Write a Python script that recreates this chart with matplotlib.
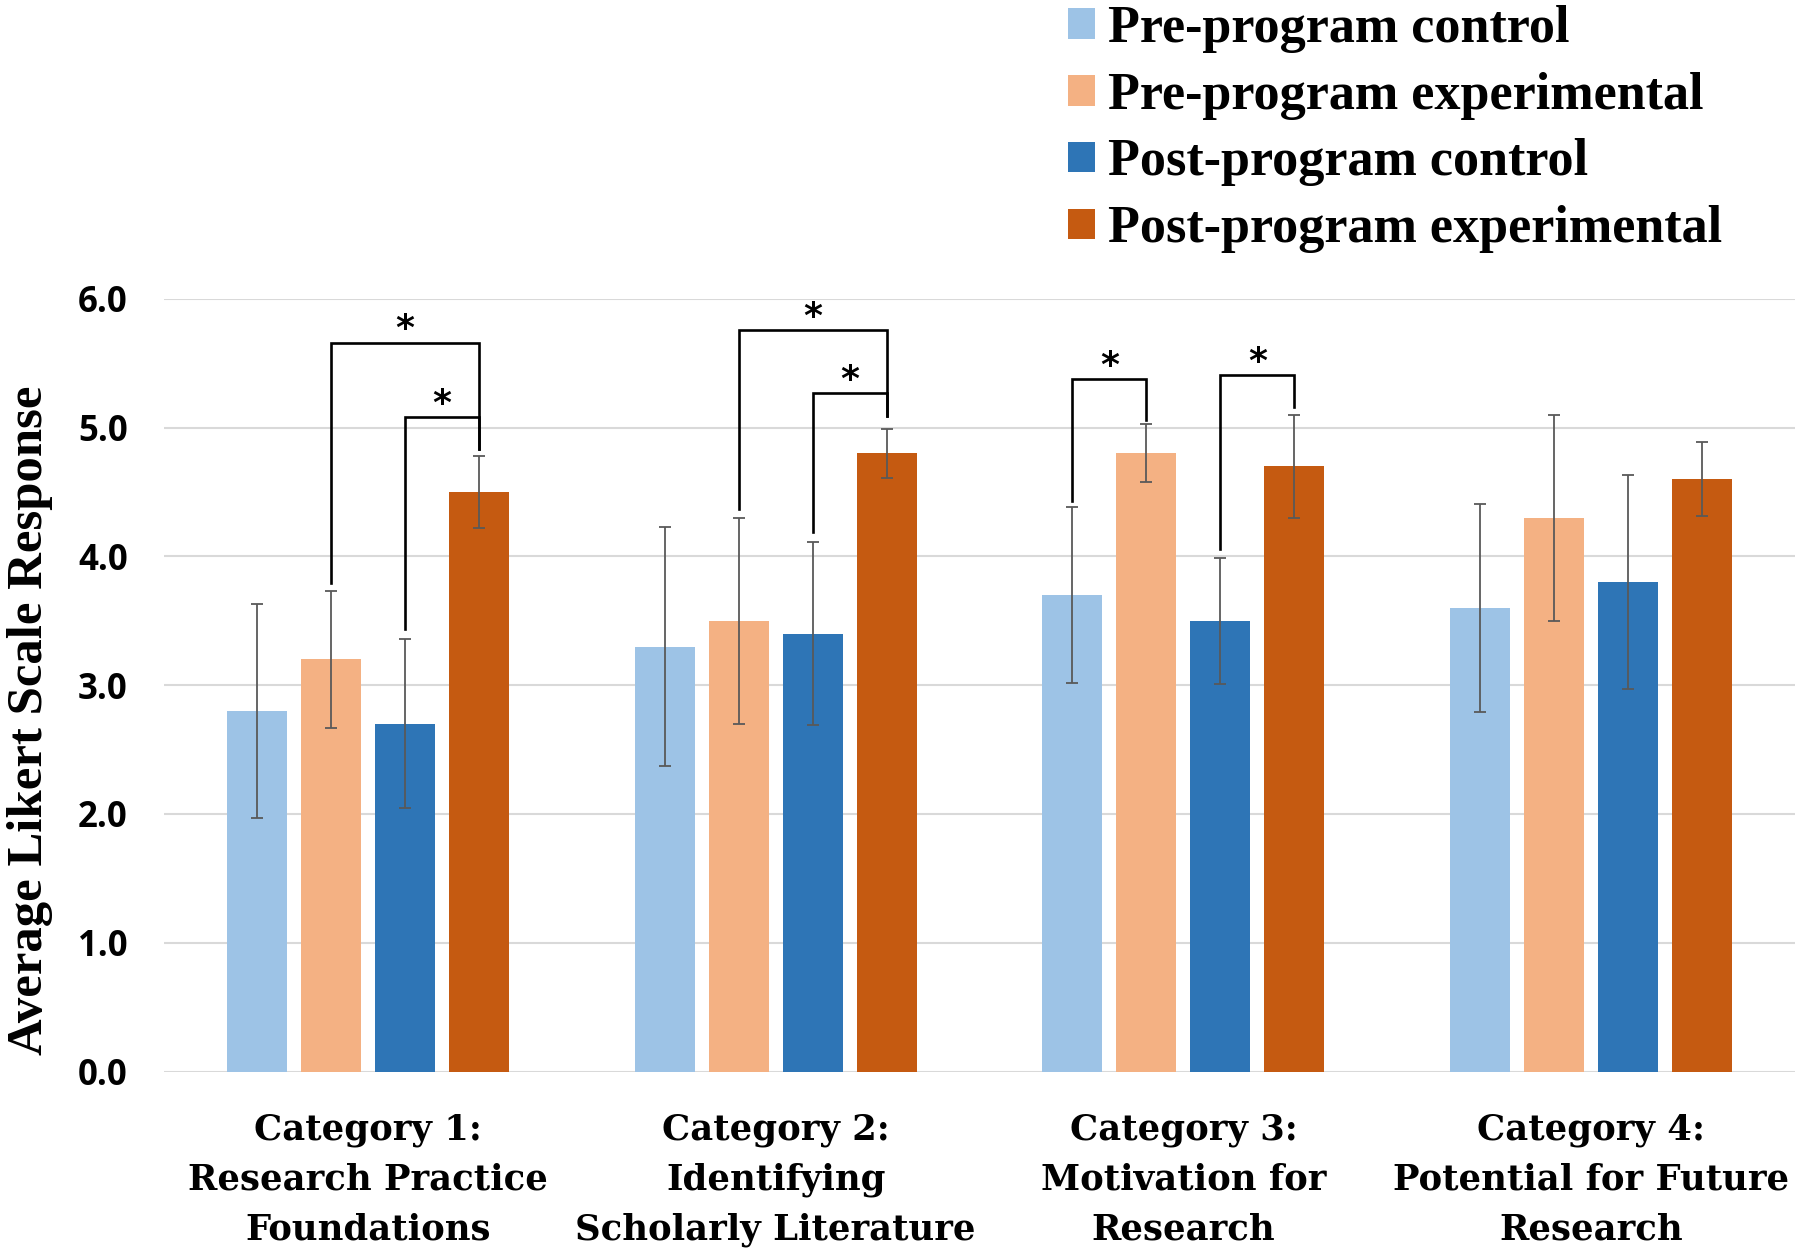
import matplotlib; matplotlib.use("Agg")
import matplotlib.pyplot as plt
import numpy as np

# ---- data ----
categories = ["Category 1:\nResearch Practice\nFoundations",
              "Category 2:\nIdentifying\nScholarly Literature",
              "Category 3:\nMotivation for\nResearch",
              "Category 4:\nPotential for Future\nResearch"]
series = ["Pre-program control", "Pre-program experimental",
          "Post-program control", "Post-program experimental"]
pre_control = [2.8, 3.3, 3.7, 3.6]
pre_exp = [3.2, 3.5, 4.8, 4.3]
post_control = [2.7, 3.4, 3.5, 3.8]
post_exp = [4.5, 4.8, 4.7, 4.6]
err_pre_control = [0.83, 0.93, 0.68, 0.81]
err_pre_exp = [0.53, 0.80, 0.225, 0.80]
err_post_control = [0.655, 0.71, 0.49, 0.83]
err_post_exp = [0.28, 0.19, 0.40, 0.29]

# significance brackets: category, left series, right series, left foot, top, right foot
br_cat = [0, 0, 1, 1, 2, 2]
br_left = [1, 2, 1, 2, 0, 2]
br_right = [3, 3, 3, 3, 1, 3]
br_lfoot = [3.79, 3.44, 4.37, 4.19, 4.43, 4.06]
br_top = [5.66, 5.08, 5.76, 5.27, 5.38, 5.41]
br_rfoot = [4.83, 4.83, 5.09, 5.09, 5.06, 5.16]

colors = ["#9DC3E6", "#F4B183", "#2E75B6", "#C55A11"]
values = [pre_control, pre_exp, post_control, post_exp]
errors = [err_pre_control, err_pre_exp, err_post_control, err_post_exp]

W, H = 1801, 1258
fig = plt.figure(figsize=(W / 100, H / 100), dpi=100)
ax = fig.add_axes([164 / W, 1 - 1071.6 / H, (1795 - 164) / W, (1071.6 - 298.8) / H])

x = np.arange(len(categories))
step, bw = 0.1815, 0.147
offsets = (np.arange(4) - 1.5) * step
bars = []
for i in range(4):
    b = ax.bar(x + offsets[i], values[i], bw, color=colors[i], label=series[i], zorder=2)
    ax.errorbar(x + offsets[i], values[i], yerr=errors[i], fmt="none", ecolor="#595959",
                elinewidth=1.3, capsize=4.3, capthick=1.3, zorder=3)
    bars.append(b)

for c, l, r, lf, tp, rf in zip(br_cat, br_left, br_right, br_lfoot, br_top, br_rfoot):
    xl, xr = c + offsets[l], c + offsets[r]
    ax.plot([xl, xl, xr, xr], [lf, tp, tp, rf], color="black", lw=1.9,
            solid_joinstyle="miter", zorder=4, clip_on=False)
    ax.text((xl + xr) / 2, tp - 0.03, "*", ha="center", va="bottom", fontsize=26,
            fontweight="bold", family="DejaVu Sans", clip_on=False)

ax.set_xlim(-0.5, 3.5)
ax.set_ylim(0, 6)
ax.set_yticks(np.arange(0, 6.1, 1.0))
ax.set_yticklabels([f"{v:.1f}" for v in np.arange(0, 6.1, 1.0)],
                   family="Open Sans", fontweight="bold", fontsize=25)
ax.set_xticks(x)
ax.set_xticklabels(categories, family="DejaVu Serif", fontweight="bold", fontsize=25.5,
                   linespacing=1.57)
ax.tick_params(axis="y", length=0, pad=26)
ax.tick_params(axis="x", length=0, pad=30)
ax.grid(axis="y", color="#D9D9D9", lw=1.5, zorder=0)
ax.set_axisbelow(True)
for s in ax.spines.values():
    s.set_visible(False)

fig.text(30 / W, 1 - 720 / H, "Average Likert Scale Response", rotation=90,
         ha="center", va="center", family="Liberation Serif", fontweight="bold", fontsize=36.5)

fig.legend(handles=bars, labels=series, loc="upper left",
           bbox_to_anchor=(1068 / W, 1 - 5 / H), frameon=False,
           prop=dict(family="Liberation Serif", weight="bold", size=37.5),
           handlelength=0.525, handleheight=0.525, handletextpad=0.24,
           labelspacing=0.36, borderpad=0, borderaxespad=0)

fig.savefig("out.png", dpi=100)
